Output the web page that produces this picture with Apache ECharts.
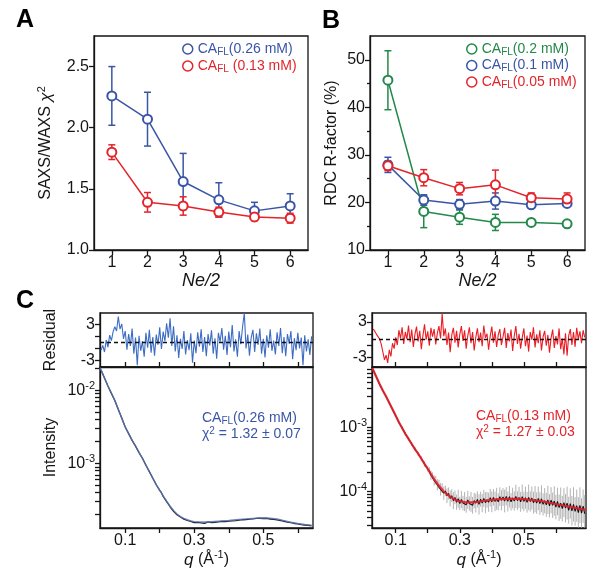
<!DOCTYPE html>
<html><head><meta charset="utf-8">
<script src="https://cdn.jsdelivr.net/npm/echarts/dist/echarts.min.js"></script>
<style>html,body{margin:0;padding:0;background:#fff}#c{width:600px;height:583px}</style>
</head><body><div id="c"></div>
<script>
// ---------- Panel A ----------
const NE = [1, 2, 3, 4, 5, 6];
const chiBlue = [2.26, 2.07, 1.56, 1.41, 1.32, 1.36];
const chiBlueErr = [0.24, 0.22, 0.23, 0.14, 0.07, 0.10];
const chiRed = [1.80, 1.39, 1.36, 1.31, 1.27, 1.26];
const chiRedErr = [0.06, 0.08, 0.075, 0.04, 0.03, 0.04];
const yTicksA = [1.0, 1.5, 2.0, 2.5];
// ---------- Panel B ----------
const rdcGreen = [45.7, 18.1, 16.9, 15.8, 15.8, 15.5];
const rdcGreenErr = [6.2, 3.4, 1.5, 1.7, 0.4, 0.4];
const rdcBlue = [27.9, 20.5, 19.6, 20.3, 19.5, 19.8];
const rdcBlueErr = [1.6, 1.1, 1.0, 1.7, 0.6, 0.6];
const rdcRed = [27.7, 25.2, 22.9, 23.7, 21.0, 20.7];
const rdcRedErr = [1.0, 1.7, 1.3, 3.1, 1.0, 1.3];
const yTicksB = [10, 20, 30, 40, 50];
const yMinorB = [15, 25, 35, 45];
// ---------- Panel C (left, 0.26 mM) ----------
const resQL = [0.030,0.035,0.040,0.045,0.050,0.055,0.060,0.065,0.070,0.075,0.080,0.085,0.090,0.095,0.100,0.105,0.110,0.115,0.120,0.125,0.130,0.135,0.140,0.145,0.150,0.155,0.160,0.165,0.170,0.175,0.180,0.185,0.190,0.195,0.200,0.205,0.210,0.215,0.220,0.225,0.230,0.235,0.240,0.245,0.250,0.255,0.260,0.265,0.270,0.275,0.280,0.285,0.290,0.295,0.300,0.305,0.310,0.315,0.320,0.325,0.330,0.335,0.340,0.345,0.350,0.355,0.360,0.365,0.370,0.375,0.380,0.385,0.390,0.395,0.400,0.405,0.410,0.415,0.420,0.425,0.430,0.435,0.440,0.445,0.450,0.455,0.460,0.465,0.470,0.475,0.480,0.485,0.490,0.495,0.500,0.505,0.510,0.515,0.520,0.525,0.530,0.535,0.540,0.545,0.550,0.555,0.560,0.565,0.570,0.575,0.580,0.585,0.590,0.595,0.600,0.605,0.610,0.615,0.620,0.625,0.630,0.635,0.640];
const resL = [-1.3,-0.5,-1.6,0.4,-0.8,1.2,0.3,1.8,2.6,1.9,4.3,2.2,3.1,0.6,1.9,-1.2,1.4,-0.6,2.3,-1.9,0.8,-3.8,1.1,-1.4,0.2,-2.4,1.6,-0.9,2.1,-1.7,0.9,-2.2,1.3,-0.4,2.5,-1.1,1.8,0.2,3.2,0.8,4.0,-0.6,2.7,-1.5,1.2,-2.6,0.6,-1.1,1.9,-2.0,0.4,-1.3,1.5,-3.4,0.3,-1.8,1.7,-0.7,2.2,-1.6,0.9,-2.3,1.4,-0.5,2.0,-1.9,0.7,-2.7,1.6,0.1,2.4,-1.2,1.1,-2.1,1.8,-0.8,2.9,-1.5,0.5,-2.4,1.9,-0.3,2.6,4.9,-1.0,1.3,-2.2,0.8,2.1,-1.6,1.5,-0.4,2.3,-1.9,0.6,-2.5,1.2,-0.9,2.2,-1.4,0.3,-2.0,1.7,-0.6,2.4,-1.8,0.9,-2.3,1.4,-0.2,1.9,-2.8,0.7,-1.3,1.6,-1.0,0.8,-3.8,1.2,-1.5,0.5,-2.1,1.0];
const dataQL = [0.03,0.04,0.05,0.06,0.07,0.08,0.09,0.10,0.11,0.12,0.13,0.14,0.15,0.16,0.17,0.18,0.19,0.20,0.205,0.210,0.215,0.220,0.225,0.230,0.235,0.240,0.245,0.250,0.255,0.260,0.265,0.270,0.275,0.280,0.285,0.290,0.295,0.300,0.305,0.310,0.315,0.320,0.325,0.330,0.335,0.340,0.345,0.350,0.355,0.360,0.365,0.370,0.375,0.380,0.385,0.390,0.395,0.400,0.405,0.410,0.415,0.420,0.425,0.430,0.435,0.440,0.445,0.450,0.455,0.460,0.465,0.470,0.475,0.480,0.485,0.490,0.495,0.500,0.505,0.510,0.515,0.520,0.525,0.530,0.535,0.540,0.545,0.550,0.555,0.560,0.565,0.570,0.575,0.580,0.585,0.590,0.595,0.600,0.605,0.610,0.615,0.620,0.625,0.630,0.635,0.640];
const dataIL = [1.90e-2,1.48e-2,1.15e-2,9.10e-3,7.26e-3,5.48e-3,4.18e-3,3.15e-3,2.56e-3,2.07e-3,1.73e-3,1.41e-3,1.18e-3,9.46e-4,7.73e-4,6.27e-4,5.12e-4,4.28e-4,
3.98e-4,3.55e-4,3.36e-4,3.01e-4,2.86e-4,2.56e-4,2.47e-4,2.22e-4,2.18e-4,1.99e-4,
2.00e-4,1.85e-4,1.86e-4,1.73e-4,1.79e-4,1.66e-4,1.70e-4,1.61e-4,1.66e-4,1.55e-4,
1.63e-4,1.56e-4,1.60e-4,1.54e-4,1.64e-4,1.52e-4,1.58e-4,1.59e-4,1.66e-4,1.55e-4,
1.61e-4,1.57e-4,1.67e-4,1.59e-4,1.63e-4,1.61e-4,1.70e-4,1.60e-4,1.66e-4,1.63e-4,
1.72e-4,1.64e-4,1.71e-4,1.65e-4,1.75e-4,1.68e-4,1.76e-4,1.70e-4,1.74e-4,1.71e-4,
1.80e-4,1.73e-4,1.79e-4,1.75e-4,1.83e-4,1.77e-4,1.82e-4,1.78e-4,1.86e-4,1.76e-4,
1.84e-4,1.78e-4,1.81e-4,1.74e-4,1.80e-4,1.72e-4,1.76e-4,1.69e-4,1.74e-4,1.66e-4,
1.69e-4,1.62e-4,1.66e-4,1.58e-4,1.62e-4,1.55e-4,1.58e-4,1.51e-4,1.54e-4,1.49e-4,
1.52e-4,1.46e-4,1.49e-4,1.44e-4,1.47e-4,1.42e-4,1.45e-4,1.40e-4];
const fitQL = [0.027,0.03,0.04,0.05,0.06,0.07,0.08,0.09,0.10,0.11,0.12,0.13,0.14,0.15,0.16,0.17,0.18,0.19,0.20,0.21,0.22,0.23,0.24,0.25,0.26,0.27,0.28,0.29,0.30,0.32,0.34,0.36,0.38,0.40,0.42,0.44,0.46,0.48,0.50,0.52,0.54,0.56,0.58,0.60,0.62,0.64];
const fitIL = [2.05e-2,1.91e-2,1.48e-2,1.15e-2,9.12e-3,7.24e-3,5.50e-3,4.17e-3,3.16e-3,2.55e-3,2.08e-3,1.72e-3,1.42e-3,1.17e-3,9.50e-4,7.70e-4,6.30e-4,5.10e-4,4.30e-4,3.60e-4,3.05e-4,2.60e-4,2.27e-4,2.04e-4,1.88e-4,1.77e-4,1.70e-4,1.64e-4,1.60e-4,1.58e-4,1.58e-4,1.61e-4,1.64e-4,1.66e-4,1.70e-4,1.73e-4,1.76e-4,1.79e-4,1.81e-4,1.79e-4,1.74e-4,1.65e-4,1.57e-4,1.51e-4,1.46e-4,1.43e-4];
const logTicksL = [2e-4,3e-4,4e-4,5e-4,6e-4,7e-4,8e-4,9e-4,1e-3,2e-3,3e-3,4e-3,5e-3,6e-3,7e-3,8e-3,9e-3,1e-2,2e-2];
// ---------- Panel C (right, 0.13 mM) ----------
const resQR = [0.030,0.035,0.040,0.045,0.050,0.055,0.060,0.065,0.070,0.075,0.080,0.085,0.090,0.095,0.100,0.105,0.110,0.115,0.120,0.125,0.130,0.135,0.140,0.145,0.150,0.155,0.160,0.165,0.170,0.175,0.180,0.185,0.190,0.195,0.200,0.205,0.210,0.215,0.220,0.225,0.230,0.235,0.240,0.245,0.250,0.255,0.260,0.265,0.270,0.275,0.280,0.285,0.290,0.295,0.300,0.305,0.310,0.315,0.320,0.325,0.330,0.335,0.340,0.345,0.350,0.355,0.360,0.365,0.370,0.375,0.380,0.385,0.390,0.395,0.400,0.405,0.410,0.415,0.420,0.425,0.430,0.435,0.440,0.445,0.450,0.455,0.460,0.465,0.470,0.475,0.480,0.485,0.490,0.495,0.500,0.505,0.510,0.515,0.520,0.525,0.530,0.535,0.540,0.545,0.550,0.555,0.560,0.565,0.570,0.575,0.580,0.585,0.590,0.595,0.600,0.605,0.610,0.615,0.620,0.625,0.630,0.635,0.640,0.645,0.650,0.655,0.660,0.665,0.670,0.675,0.680,0.685,0.690];
const resR = [1.8,1.4,0.9,1.1,0.1,-0.8,-2.1,-3.4,-2.6,-3.9,-1.7,-2.8,-0.6,-1.5,0.4,-0.9,1.6,0.2,2.1,-0.7,1.3,0.1,2.4,-0.4,1.7,-1.2,0.9,2.2,-0.3,1.5,-1.6,0.7,2.6,0.0,1.4,-1.0,2.0,0.5,1.8,-0.8,1.1,2.3,0.2,4.4,0.6,1.9,-0.9,1.2,-2.1,0.8,2.0,-0.5,1.5,-1.3,0.9,2.3,-0.2,1.6,-1.5,0.7,2.1,-0.6,1.3,-1.8,0.4,1.9,-0.4,1.2,-1.1,2.4,0.3,1.0,-1.7,0.6,2.2,-0.5,1.4,-1.2,0.8,1.8,-0.9,0.5,2.0,-1.4,1.1,-0.3,1.7,-1.9,0.6,2.3,-0.7,1.0,-1.5,0.4,1.9,-1.1,0.7,-2.0,1.3,0.0,2.1,-1.3,0.9,-0.6,1.6,-1.8,0.5,1.5,-1.0,0.8,-2.2,0.3,1.7,-1.4,0.6,-0.8,1.9,-1.6,0.2,-2.5,1.1,-2.7,0.7,1.8,-0.9,1.3,-1.2,2.0,0.1,1.4,-0.6,1.6,0.4];
const dataQR = [0.03,0.04,0.05,0.06,0.07,0.08,0.09,0.10,0.11,0.12,0.13,0.14,0.15,0.16,0.17,0.18,0.19,0.20,0.205,0.210,0.215,0.220,0.225,0.230,0.235,0.240,0.245,0.250,0.255,0.260,0.265,0.270,0.275,0.280,0.285,0.290,0.295,0.300,0.305,0.310,0.315,0.320,0.325,0.330,0.335,0.340,0.345,0.350,0.355,0.360,0.365,0.370,0.375,0.380,0.385,0.390,0.395,0.400,0.405,0.410,0.415,0.420,0.425,0.430,0.435,0.440,0.445,0.450,0.455,0.460,0.465,0.470,0.475,0.480,0.485,0.490,0.495,0.500,0.505,0.510,0.515,0.520,0.525,0.530,0.535,0.540,0.545,0.550,0.555,0.560,0.565,0.570,0.575,0.580,0.585,0.590,0.595,0.600,0.605,0.610,0.615,0.620,0.625,0.630,0.635,0.640,0.645,0.650,0.655,0.660,0.665,0.670,0.675,0.680,0.685,0.690];
const dataIR = [7.90e-3,6.05e-3,4.66e-3,3.73e-3,3.01e-3,2.41e-3,1.90e-3,1.52e-3,1.19e-3,9.80e-4,7.90e-4,6.64e-4,5.47e-4,4.60e-4,3.87e-4,3.26e-4,2.67e-4,2.26e-4,
2.10e-4,1.79e-4,1.76e-4,1.49e-4,1.50e-4,1.27e-4,1.30e-4,1.08e-4,1.13e-4,0.94e-4,
1.02e-4,0.86e-4,0.93e-4,0.78e-4,0.86e-4,0.72e-4,0.81e-4,0.68e-4,0.77e-4,0.65e-4,
0.75e-4,0.66e-4,0.70e-4,0.62e-4,0.74e-4,0.65e-4,0.69e-4,0.61e-4,0.72e-4,0.66e-4,
0.75e-4,0.63e-4,0.76e-4,0.66e-4,0.78e-4,0.67e-4,0.74e-4,0.68e-4,0.80e-4,0.69e-4,
0.81e-4,0.70e-4,0.77e-4,0.69e-4,0.83e-4,0.73e-4,0.82e-4,0.71e-4,0.84e-4,0.70e-4,
0.83e-4,0.69e-4,0.79e-4,0.71e-4,0.84e-4,0.72e-4,0.81e-4,0.69e-4,0.83e-4,0.70e-4,
0.80e-4,0.68e-4,0.81e-4,0.70e-4,0.79e-4,0.67e-4,0.76e-4,0.66e-4,0.78e-4,0.65e-4,
0.77e-4,0.63e-4,0.72e-4,0.62e-4,0.74e-4,0.60e-4,0.73e-4,0.61e-4,0.71e-4,0.57e-4,
0.70e-4,0.56e-4,0.66e-4,0.54e-4,0.67e-4,0.55e-4,0.66e-4,0.51e-4,0.65e-4,0.50e-4,
0.63e-4,0.49e-4,0.60e-4,0.47e-4,0.61e-4,0.46e-4,0.59e-4,0.45e-4];
const dataErrR = [0.02,0.02,0.02,0.03,0.03,0.03,0.04,0.04,0.05,0.05,0.06,0.06,0.07,0.08,0.08,0.09,0.10,0.11,
0.14,0.18,0.13,0.20,0.16,0.22,0.17,0.25,0.19,0.27,
0.21,0.30,0.24,0.33,0.26,0.35,0.28,0.31,0.38,0.27,
0.36,0.30,0.41,0.33,0.38,0.29,0.43,0.35,0.32,0.40,
0.34,0.44,0.31,0.39,0.36,0.46,0.33,0.41,0.37,0.45,
0.35,0.42,0.48,0.36,0.40,0.44,0.38,0.50,0.39,0.43,
0.47,0.37,0.45,0.41,0.52,0.40,0.46,0.43,0.55,0.42,
0.49,0.45,0.58,0.44,0.51,0.48,0.60,0.47,0.53,0.50,
0.62,0.49,0.57,0.54,0.66,0.52,0.60,0.58,0.70,0.55,
0.64,0.61,0.75,0.58,0.68,0.66,0.80,0.62,0.72,0.70,
0.85,0.67,0.78,0.74,0.90,0.71,0.82,0.95];
const fitQR = [0.027,0.03,0.04,0.05,0.06,0.07,0.08,0.09,0.10,0.11,0.12,0.13,0.14,0.15,0.16,0.17,0.18,0.19,0.20,0.21,0.22,0.23,0.24,0.25,0.26,0.27,0.28,0.29,0.30,0.31,0.32,0.34,0.36,0.38,0.40,0.42,0.44,0.46,0.48,0.50,0.52,0.54,0.56,0.58,0.60,0.62,0.64,0.66,0.68,0.694];
const fitIR = [8.3e-3,7.94e-3,6.03e-3,4.68e-3,3.72e-3,3.02e-3,2.40e-3,1.91e-3,1.51e-3,1.20e-3,9.77e-4,7.94e-4,6.61e-4,5.50e-4,4.57e-4,3.89e-4,3.24e-4,2.69e-4,2.24e-4,1.86e-4,1.55e-4,1.32e-4,1.15e-4,1.00e-4,9.12e-5,8.32e-5,7.76e-5,7.24e-5,7.08e-5,6.92e-5,6.76e-5,6.76e-5,6.92e-5,7.24e-5,7.41e-5,7.59e-5,7.59e-5,7.67e-5,7.67e-5,7.59e-5,7.41e-5,7.24e-5,7.00e-5,6.68e-5,6.38e-5,6.10e-5,5.82e-5,5.56e-5,5.31e-5,5.19e-5];
const logTicksR = [3e-5,4e-5,5e-5,6e-5,7e-5,8e-5,9e-5,1e-4,2e-4,3e-4,4e-4,5e-4,6e-4,7e-4,8e-4,9e-4,1e-3,2e-3,3e-3,4e-3,5e-3,6e-3,7e-3,8e-3];
const qTicks = [0.1, 0.2, 0.3, 0.4, 0.5, 0.6];
const qLabels = [0.1, 0.3, 0.5];

// ---------- styling ----------
const FONT = '"Liberation Sans", Arial, Helvetica, sans-serif';
const INK = '#151515';
const BLUE = '#3a55a6', RED = '#e3242b', GREEN = '#23894b';
const RESBLUE = '#3d6cc2', RESRED = '#ec1c24';
const YMIN_R = 2.7e-5, YMAX_R = 8.7e-3;
const FS = 16;

function merge(a, b) {
  const o = Object.assign({}, a);
  for (const k in b) {
    if (b[k] && typeof b[k] === 'object' && !Array.isArray(b[k]) && a[k] && typeof a[k] === 'object') o[k] = merge(a[k], b[k]);
    else o[k] = b[k];
  }
  return o;
}
const baseAxis = {
  type: 'value',
  axisLine: {show: true, onZero: false, lineStyle: {color: INK, width: 1.3}},
  splitLine: {show: false},
  axisTick: {show: true, inside: false, length: 5, lineStyle: {color: INK, width: 1.3}},
  axisLabel: {show: true, color: INK, fontSize: FS, fontFamily: FONT, margin: 5},
  nameTextStyle: {color: INK, fontSize: FS, fontFamily: FONT}
};
const ax = o => merge(baseAxis, o);
const zip = (xs, ys) => xs.map((x, i) => [x, ys[i]]);
const supRich = {
  t: {fontSize: 16, fontFamily: FONT, color: INK, lineHeight: 20},
  i: {fontSize: 17, fontFamily: FONT, color: INK, fontStyle: 'italic', lineHeight: 20},
  g: {fontSize: 17, fontFamily: FONT, color: INK, fontStyle: 'italic', lineHeight: 20},
  p: {fontSize: 11, fontFamily: FONT, color: INK, verticalAlign: 'top', lineHeight: 10}
};
const expRich = {
  b: {fontSize: FS, fontFamily: FONT, color: INK, lineHeight: 20},
  p: {fontSize: 11, fontFamily: FONT, color: INK, verticalAlign: 'top', lineHeight: 10}
};
const expFmt = v => '{b|10}{p|' + Math.round(Math.log10(v)) + '}';
const caFmt = n => n.replace('CA_FL', '{m|CA}{s|FL}{m|') + '}';
const caRich = {
  m: {fontSize: 14, fontFamily: FONT, lineHeight: 16},
  s: {fontSize: 10, fontFamily: FONT, lineHeight: 8, verticalAlign: 'bottom'}
};

function errBar(xs, ys, es, color, xi, yi) {
  return {
    type: 'custom', xAxisIndex: xi, yAxisIndex: yi, z: 1, silent: true,
    data: xs.map((x, i) => [x, ys[i] - es[i], ys[i] + es[i]]),
    renderItem: (p, api) => {
      const lo = api.coord([api.value(0), api.value(1)]);
      const hi = api.coord([api.value(0), api.value(2)]);
      const w = 3.5, st = {stroke: color, lineWidth: 1.5};
      return {type: 'group', children: [
        {type: 'line', shape: {x1: lo[0], y1: lo[1], x2: hi[0], y2: hi[1]}, style: st},
        {type: 'line', shape: {x1: lo[0] - w, y1: lo[1], x2: lo[0] + w, y2: lo[1]}, style: st},
        {type: 'line', shape: {x1: hi[0] - w, y1: hi[1], x2: hi[0] + w, y2: hi[1]}, style: st}
      ]};
    }
  };
}
function pointLine(name, xs, ys, color, xi, yi) {
  return {
    type: 'line', name, xAxisIndex: xi, yAxisIndex: yi, z: 3,
    data: zip(xs, ys), symbol: 'emptyCircle', symbolSize: 9,
    itemStyle: {color: color, borderColor: color, borderWidth: 1.5},
    lineStyle: {color: color, width: 1.5}
  };
}
const zeroLine = {
  silent: true, symbol: ['none', 'none'], label: {show: false},
  lineStyle: {color: '#111', type: [4, 3], width: 1.4}, data: [{yAxis: 0}]
};
const frame = (l, t, w, h) => ({left: l, top: t, width: w, height: h, show: true, borderColor: INK, borderWidth: 1.3, backgroundColor: 'rgba(0,0,0,0)'});
const neName = {name: 'Ne/2', nameLocation: 'middle', nameGap: 16, nameTextStyle: {fontStyle: 'italic', fontSize: 18}};
const qName = {name: '{i|q}{t| (Å}{p|-1}{t|)}', nameLocation: 'middle', nameGap: 21, nameTextStyle: {rich: supRich}};

const option = {
  animation: false,
  backgroundColor: '#fff',
  textStyle: {fontFamily: FONT},
  grid: [
    frame(94, 36, 214, 214),
    frame(370, 36, 215, 214),
    frame(100, 313, 213, 54),
    frame(100, 367, 213, 161),
    frame(372, 313, 214, 54),
    frame(372, 367, 214, 161)
  ],
  xAxis: [
    ax(Object.assign({gridIndex: 0, min: 0.5, max: 6.5, axisTick: {customValues: NE}, axisLabel: {customValues: NE}}, neName)),
    ax(Object.assign({gridIndex: 1, min: 0.5, max: 6.5, axisTick: {customValues: NE}, axisLabel: {customValues: NE}}, neName)),
    ax({gridIndex: 2, min: 0.027, max: 0.644, axisTick: {inside: true, customValues: qTicks}, axisLabel: {show: false}}),
    ax(Object.assign({gridIndex: 3, min: 0.027, max: 0.644, axisTick: {customValues: qTicks},
        axisLabel: {customValues: qLabels, formatter: v => v.toFixed(1)}}, qName)),
    ax({gridIndex: 4, min: 0.026, max: 0.694, axisTick: {inside: true, customValues: qTicks}, axisLabel: {show: false}}),
    ax(Object.assign({gridIndex: 5, min: 0.026, max: 0.694, axisTick: {customValues: qTicks},
        axisLabel: {customValues: qLabels, formatter: v => v.toFixed(1)}}, qName))
  ],
  yAxis: [
    ax({gridIndex: 0, position: 'left', min: 1, max: 2.75, axisTick: {customValues: yTicksA},
        axisLabel: {customValues: yTicksA, formatter: v => v.toFixed(1)},
        name: '{t|SAXS/WAXS }{g|χ}{p|2}', nameLocation: 'middle', nameRotate: 90, nameGap: 38, nameTextStyle: {rich: supRich}}),
    ax({gridIndex: 1, position: 'left', min: 10, max: 55, axisTick: {customValues: yTicksB},
        axisLabel: {customValues: yTicksB},
        name: 'RDC R-factor (%)', nameLocation: 'middle', nameRotate: 90, nameGap: 30}),
    ax({gridIndex: 1, position: 'left', min: 10, max: 55, axisLine: {show: false},
        axisTick: {customValues: yMinorB, length: 3}, axisLabel: {show: false}}),
    ax({gridIndex: 2, position: 'left', min: -4.1, max: 4.9, axisTick: {customValues: [-3, -1, 1, 3]},
        axisLabel: {customValues: [-3, 3]},
        name: 'Residual', nameLocation: 'middle', nameRotate: 90, nameGap: 41}),
    ax({gridIndex: 3, position: 'left', type: 'log', logBase: 10, min: 1.31e-4, max: 2.09e-2,
        axisTick: {customValues: logTicksL}, axisLabel: {customValues: [1e-3, 1e-2], formatter: expFmt, rich: expRich},
        name: 'Intensity', nameLocation: 'middle', nameRotate: 90, nameGap: 41}),
    ax({gridIndex: 4, position: 'left', min: -4.6, max: 4.5, axisTick: {customValues: [-3, -1, 1, 3]},
        axisLabel: {customValues: [-3, 3]}}),
    ax({gridIndex: 5, position: 'left', type: 'log', logBase: 10, min: YMIN_R, max: YMAX_R,
        axisTick: {customValues: logTicksR}, axisLabel: {customValues: [1e-4, 1e-3], formatter: expFmt, rich: expRich}})
  ],
  legend: [
    {left: 177, top: 37, orient: 'vertical', itemGap: 2, itemWidth: 10, itemHeight: 10, icon: 'circle',
     selectedMode: false, formatter: caFmt, textStyle: {fontSize: 14, fontFamily: FONT, rich: caRich},
     data: [
       {name: 'CA_FL(0.26 mM)', itemStyle: {color: '#fff', borderColor: BLUE, borderWidth: 1.5}, textStyle: {color: BLUE}},
       {name: 'CA_FL (0.13 mM)', itemStyle: {color: '#fff', borderColor: RED, borderWidth: 1.5}, textStyle: {color: RED}}
     ]},
    {left: 461, top: 37, orient: 'vertical', itemGap: 1.5, itemWidth: 10, itemHeight: 10, icon: 'circle',
     selectedMode: false, formatter: caFmt, textStyle: {fontSize: 14, fontFamily: FONT, rich: caRich},
     data: [
       {name: 'CA_FL(0.2 mM)', itemStyle: {color: '#fff', borderColor: GREEN, borderWidth: 1.5}, textStyle: {color: GREEN}},
       {name: 'CA_FL(0.1 mM)', itemStyle: {color: '#fff', borderColor: BLUE, borderWidth: 1.5}, textStyle: {color: BLUE}},
       {name: 'CA_FL(0.05 mM)', itemStyle: {color: '#fff', borderColor: RED, borderWidth: 1.5}, textStyle: {color: RED}}
     ]}
  ],
  graphic: [
    {type: 'text', left: 16, top: 8, style: {text: 'A', fontSize: 25, fontWeight: 'bold', fontFamily: FONT, fill: '#000'}},
    {type: 'text', left: 322, top: 9, style: {text: 'B', fontSize: 25, fontWeight: 'bold', fontFamily: FONT, fill: '#000'}},
    {type: 'text', left: 16, top: 289, style: {text: 'C', fontSize: 25, fontWeight: 'bold', fontFamily: FONT, fill: '#000'}},
    {type: 'text', left: 202, top: 411, style: {
      text: '{m|CA}{s|FL}{m|(0.26 mM)}\n{m|χ}{p|2}{m| = 1.32 ± 0.07}', fill: BLUE,
      rich: {m: {fontSize: 14, fontFamily: FONT, lineHeight: 16, fill: BLUE}, s: {fontSize: 10, fontFamily: FONT, lineHeight: 8, verticalAlign: 'bottom', fill: BLUE}, p: {fontSize: 10, fontFamily: FONT, lineHeight: 8, verticalAlign: 'top', fill: BLUE}}}},
    {type: 'text', left: 476, top: 409, style: {
      text: '{m|CA}{s|FL}{m|(0.13 mM)}\n{m|χ}{p|2}{m| = 1.27 ± 0.03}', fill: RED,
      rich: {m: {fontSize: 14, fontFamily: FONT, lineHeight: 16, fill: RED}, s: {fontSize: 10, fontFamily: FONT, lineHeight: 8, verticalAlign: 'bottom', fill: RED}, p: {fontSize: 10, fontFamily: FONT, lineHeight: 8, verticalAlign: 'top', fill: RED}}}}
  ],
  series: [
    errBar(NE, chiBlue, chiBlueErr, BLUE, 0, 0),
    errBar(NE, chiRed, chiRedErr, RED, 0, 0),
    pointLine('CA_FL(0.26 mM)', NE, chiBlue, BLUE, 0, 0),
    pointLine('CA_FL (0.13 mM)', NE, chiRed, RED, 0, 0),
    errBar(NE, rdcGreen, rdcGreenErr, GREEN, 1, 1),
    errBar(NE, rdcBlue, rdcBlueErr, BLUE, 1, 1),
    errBar(NE, rdcRed, rdcRedErr, RED, 1, 1),
    pointLine('CA_FL(0.2 mM)', NE, rdcGreen, GREEN, 1, 1),
    pointLine('CA_FL(0.1 mM)', NE, rdcBlue, BLUE, 1, 1),
    pointLine('CA_FL(0.05 mM)', NE, rdcRed, RED, 1, 1),
    {type: 'line', xAxisIndex: 2, yAxisIndex: 3, data: zip(resQL, resL), symbol: 'none',
     lineStyle: {color: RESBLUE, width: 1.1}, markLine: zeroLine},
    {type: 'line', xAxisIndex: 3, yAxisIndex: 4, data: zip(dataQL, dataIL), symbol: 'none',
     lineStyle: {color: '#1c1c1c', width: 1.3}},
    {type: 'line', xAxisIndex: 3, yAxisIndex: 4, data: zip(fitQL, fitIL), symbol: 'none', z: 3,
     lineStyle: {color: '#5a74b4', width: 1.4, opacity: 0.85}},
    {type: 'line', xAxisIndex: 4, yAxisIndex: 5, data: zip(resQR, resR), symbol: 'none',
     lineStyle: {color: RESRED, width: 1.1}, markLine: zeroLine},
    {type: 'custom', xAxisIndex: 5, yAxisIndex: 6, z: 1, silent: true,
     data: dataQR.map((q, i) => [q, Math.max(dataIR[i] / (1 + dataErrR[i]), YMIN_R), Math.min(dataIR[i] * (1 + dataErrR[i]), YMAX_R)]),
     renderItem: (p, api) => {
       const a = api.coord([api.value(0), api.value(1)]);
       const b = api.coord([api.value(0), api.value(2)]);
       return {type: 'line', shape: {x1: a[0], y1: a[1], x2: b[0], y2: b[1]}, style: {stroke: '#a0a0a0', lineWidth: 0.8}};
     }},
    {type: 'line', xAxisIndex: 5, yAxisIndex: 6, data: zip(dataQR, dataIR), symbol: 'none', z: 2,
     lineStyle: {color: '#111', width: 1.1}},
    {type: 'line', xAxisIndex: 5, yAxisIndex: 6, data: zip(fitQR, fitIR), symbol: 'none', z: 3,
     lineStyle: {color: '#e0202c', width: 2.2, opacity: 0.9}}
  ]
};
const chart = echarts.init(document.getElementById('c'));
chart.setOption(option);
</script></body></html>
